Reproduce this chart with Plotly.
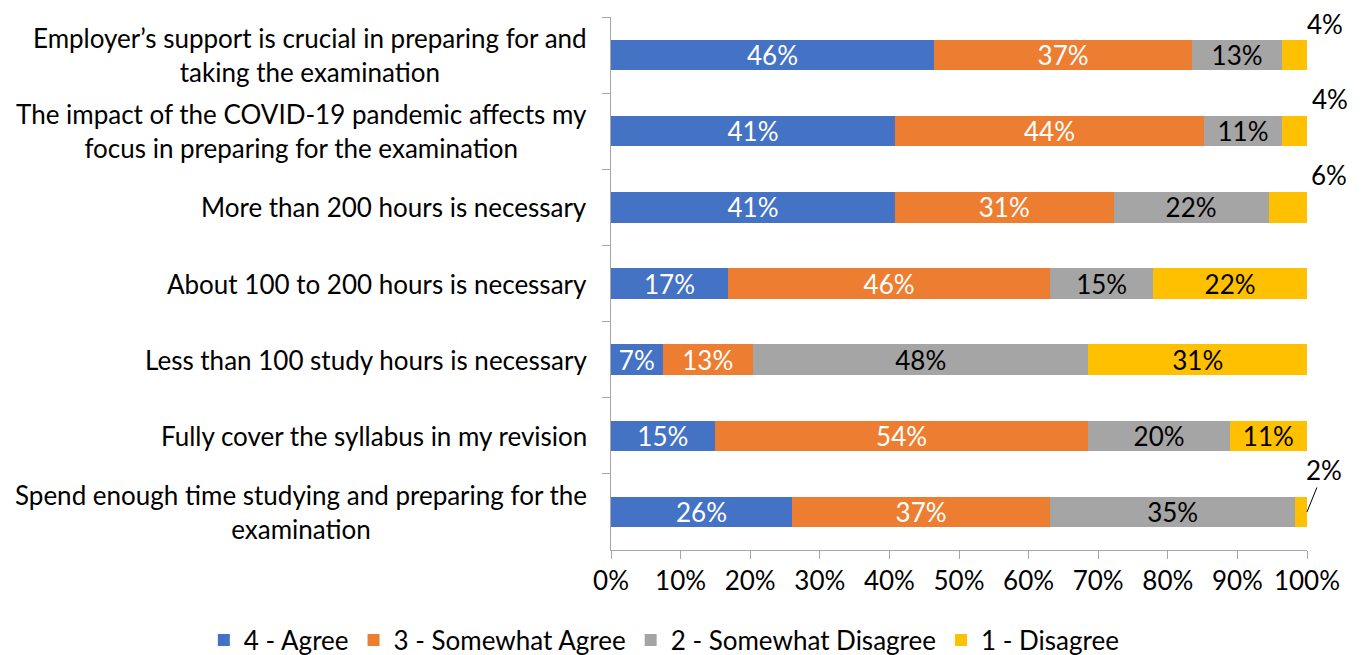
import plotly.graph_objects as go

categories = [
    "Employer’s support is crucial in preparing for and<br>taking the examination",
    "The impact of the COVID-19 pandemic affects my<br>focus in preparing for the examination",
    "More than 200 hours is necessary",
    "About 100 to 200 hours is necessary",
    "Less than 100 study hours is necessary",
    "Fully cover the syllabus in my revision",
    "Spend enough time studying and preparing for the<br>examination",
]

agree = [46.4, 40.8, 40.8, 16.8, 7.4, 14.9, 26.0]
somewhat_agree = [37.1, 44.4, 31.4, 46.3, 13.0, 53.7, 37.1]
somewhat_disagree = [12.9, 11.2, 22.3, 14.8, 48.2, 20.3, 35.2]
disagree = [3.6, 3.6, 5.5, 22.1, 31.4, 11.1, 1.7]

series = [
    ("4 - Agree", agree, "#4472C4", "white"),
    ("3 - Somewhat Agree", somewhat_agree, "#ED7D31", "white"),
    ("2 - Somewhat Disagree", somewhat_disagree, "#A5A5A5", "black"),
    ("1 - Disagree", disagree, "#FFC000", "black"),
]

FONT = "Lato, 'Open Sans', sans-serif"
FS = 26
ids = list(range(len(categories)))

fig = go.Figure()
for name, vals, color, tcolor in series:
    # small yellow segments get their label outside the bar
    labels = [f"{round(v)}%" if v >= 7 else "" for v in vals]
    fig.add_trace(go.Bar(
        name=name, y=ids, x=vals, orientation="h",
        marker=dict(color=color, line=dict(width=0)),
        text=labels, textposition="inside", insidetextanchor="middle",
        textangle=0, constraintext="none",
        textfont=dict(family=FONT, size=FS, color=tcolor),
        hoverinfo="skip",
    ))

# outside labels for the thin disagree segments
outside = {0: (18, 31), 1: (23, 32), 2: (22, 32)}
for i, (dx, dy) in outside.items():
    fig.add_annotation(x=100, y=i, xref="x", yref="y", text=f"{round(disagree[i])}%",
                       showarrow=False, xshift=dx, yshift=dy,
                       font=dict(family=FONT, size=FS, color="black"))
fig.add_annotation(x=100, y=6, xref="x", yref="y", text=f"{round(disagree[6])}%",
                   showarrow=True, arrowhead=0, arrowwidth=1, arrowcolor="black",
                   ax=17, ay=-42, standoff=0,
                   font=dict(family=FONT, size=FS, color="black"))

# category labels, centred multi-line
for i, c in enumerate(categories):
    fig.add_annotation(x=0, y=i, xref="paper", yref="y", text=c, showarrow=False,
                       xanchor="right", xshift=-22, align="center",
                       font=dict(family=FONT, size=FS, color="black"))

# page body adds an 8px offset, so the figure is 8px smaller
fig.update_layout(
    barmode="stack", bargap=0.6,
    width=1353, height=647,
    margin=dict(l=603, r=54, t=9, b=105, autoexpand=False),
    plot_bgcolor="white", paper_bgcolor="white",
    font=dict(family=FONT, size=FS, color="black"),
    showlegend=True,
    legend=dict(orientation="h", x=-0.585, xanchor="left",
                y=-0.169, yanchor="middle",
                font=dict(family=FONT, size=FS), itemwidth=30, traceorder="normal"),
    xaxis=dict(range=[0, 100], tickvals=[0, 10, 20, 30, 40, 50, 60, 70, 80, 90, 100],
               ticktext=[f"{v}%" for v in range(0, 101, 10)],
               showgrid=False, zeroline=False, showline=True, linecolor="#A6A6A6",
               ticks="outside", ticklen=8, tickcolor="#A6A6A6",
               tickfont=dict(family=FONT, size=FS)),
    yaxis=dict(type="category", range=[6.5, -0.5], autorange=False, showticklabels=False,
               showgrid=False, zeroline=False, showline=True, linecolor="#A6A6A6",
               ticks="outside", ticklen=8, tickcolor="#A6A6A6", tickson="boundaries"),
)

fig.write_html("out.html")
